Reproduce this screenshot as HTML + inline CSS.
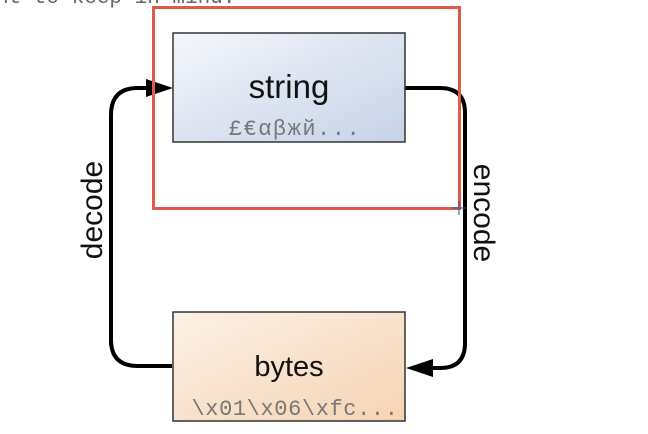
<!DOCTYPE html>
<html><head><meta charset="utf-8"><style>
body{margin:0;width:648px;height:434px;background:#fff;overflow:hidden;position:relative;font-family:"Liberation Sans",sans-serif}
</style></head><body>
<div style="position:absolute;left:-4px;top:-13px;font:21px 'Liberation Mono',monospace;color:#666">nt to keep in mind.</div>
<svg width="648" height="434" style="position:absolute;left:0;top:0">
<defs>
<linearGradient id="g1" x1="0" y1="0" x2="1" y2="1"><stop offset="0" stop-color="#f4f6fb"/><stop offset="1" stop-color="#c6d2e6"/></linearGradient>
<linearGradient id="g2" x1="0" y1="0" x2="1" y2="1"><stop offset="0" stop-color="#fbf1e6"/><stop offset="1" stop-color="#f5d3b3"/></linearGradient>
</defs>
<path d="M111,345 L111,115 Q111,88 138,88 L150,88" fill="none" stroke="#000" stroke-width="4"/>
<polygon points="173,88 146,79 146,97" fill="#000"/>
<path d="M172,366 L138,366 Q111,366 111,340" fill="none" stroke="#000" stroke-width="4"/>
<path d="M405,88 L440,88 Q465,88 465,113 L465,343 Q465,368 440,368 L428,368" fill="none" stroke="#000" stroke-width="4"/>
<polygon points="406,368 433,359 433,377" fill="#000"/>
<rect x="173" y="33" width="232" height="109" fill="url(#g1)" stroke="#333" stroke-width="1.5"/>
<rect x="173" y="312" width="232" height="109" fill="url(#g2)" stroke="#333" stroke-width="1.5"/>
<text x="289" y="98" font-size="33" text-anchor="middle" fill="#111">string</text>
<text x="295" y="135" font-size="22" font-family="Liberation Mono,DejaVu Sans Mono,monospace" text-anchor="middle" fill="#777" letter-spacing="1.5">£€αβжй...</text>
<text x="289" y="376" font-size="29" text-anchor="middle" fill="#111">bytes</text>
<text x="295" y="415" font-size="22" font-family="Liberation Mono,monospace" text-anchor="middle" fill="#777" letter-spacing="0.6">\x01\x06\xfc...</text>
<text transform="translate(102,210) rotate(-90)" font-size="30" text-anchor="middle" fill="#111">decode</text>
<text transform="translate(474,213) rotate(90)" font-size="30" text-anchor="middle" fill="#111">encode</text>
<rect x="153.5" y="7.5" width="306" height="201" fill="none" stroke="#e05a48" stroke-width="3"/>
<g stroke="#2a5a9a" stroke-width="1"><line x1="452" y1="208" x2="466" y2="208"/><line x1="459" y1="201" x2="459" y2="215"/></g>
</svg>
</body></html>
